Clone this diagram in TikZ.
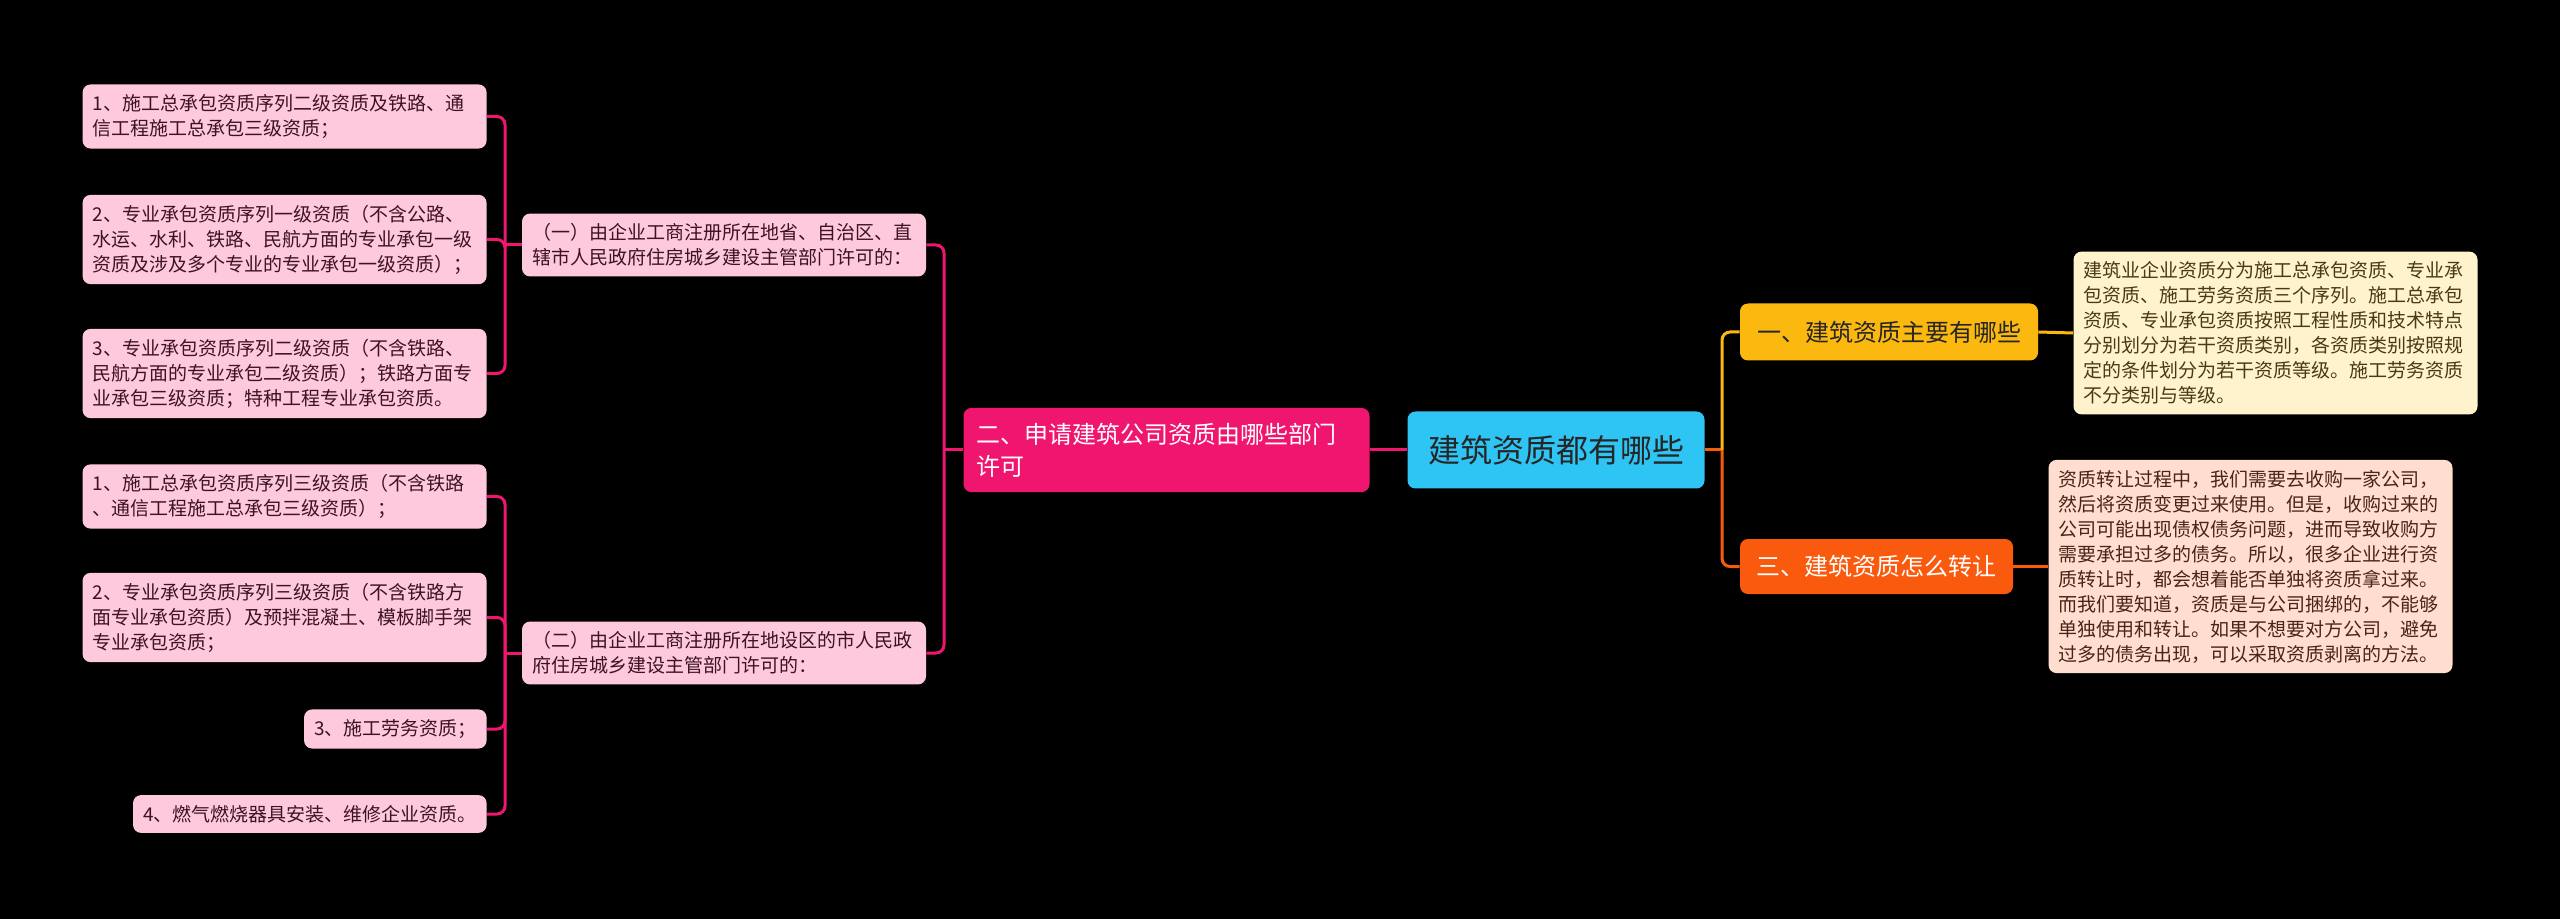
\documentclass[tikz,border=0pt]{standalone}
\usepackage{fontspec}
\setmainfont{Noto Sans CJK SC}
\usetikzlibrary{positioning}
\definecolor{rootblue}{HTML}{2EC4F3}
\definecolor{hotpink}{HTML}{F0166F}
\definecolor{lightpink}{HTML}{FFC9DD}
\definecolor{leafink}{HTML}{3D1226}
\definecolor{amber}{HTML}{FBB80F}
\definecolor{tangerine}{HTML}{F95A0E}
\definecolor{cream}{HTML}{FFF3CE}
\definecolor{creamink}{HTML}{4A3A12}
\definecolor{peach}{HTML}{FFDDCF}
\definecolor{peachink}{HTML}{4A2416}
\tikzset{
  box/.style={rounded corners=4pt, inner xsep=5pt, inner ysep=5pt, align=left,
    font=\fontsize{9.5}{12.5}\selectfont},
  leaf/.style={box, fill=lightpink, text=leafink, anchor=east},
  pinkline/.style={draw=hotpink, line width=1.5pt, rounded corners=4pt},
  yline/.style={draw=amber, line width=1.5pt, rounded corners=4pt},
  oline/.style={draw=tangerine, line width=1.5pt, rounded corners=4pt},
}
\begin{document}
\begin{tikzpicture}[x=0.5pt, y=-0.5pt]
  % Sfondo
  \fill[black] (0,0) rectangle (2560,919);
  \useasboundingbox (0,0) rectangle (2560,919);

  % Nodo centrale
  \node[box, fill=rootblue, text=black!85, align=center, minimum width=148.5pt,
    minimum height=38.5pt, font=\fontsize{16}{19}\selectfont] (root) at (1556,450) {建筑资质都有哪些};

  % Ramo destro
  \node[box, fill=amber, text=black!85, minimum width=149pt, minimum height=28.5pt,
    font=\fontsize{12}{16}\selectfont] (one) at (1889,332) {一、建筑资质主要有哪些};
  \node[box, fill=tangerine, text=white, minimum width=136.5pt, minimum height=27.5pt,
    font=\fontsize{12}{16}\selectfont] (three) at (1876.5,566.5) {三、建筑资质怎么转让};
  \node[box, fill=cream, text=creamink, text width=192pt] (onetext) at (2275.5,333)
    {建筑业企业资质分为施工总承包资质、专业承\\包资质、施工劳务资质三个序列。施工总承包\\资质、专业承包资质按照工程性质和技术特点\\分别划分为若干资质类别，各资质类别按照规\\定的条件划分为若干资质等级。施工劳务资质\\不分类别与等级。};
  \node[box, fill=peach, text=peachink, text width=192pt] (threetext) at (2250.5,566.5)
    {资质转让过程中，我们需要去收购一家公司，\\然后将资质变更过来使用。但是，收购过来的\\公司可能出现债权债务问题，进而导致收购方\\需要承担过多的债务。所以，很多企业进行资\\质转让时，都会想着能否单独将资质拿过来。\\而我们要知道，资质是与公司捆绑的，不能够\\单独使用和转让。如果不想要对方公司，避免\\过多的债务出现，可以采取资质剥离的方法。};

  % Ramo sinistro
  \node[box, fill=hotpink, text=white, text width=190pt, inner xsep=6.5pt, inner ysep=7.5pt,
    font=\fontsize{12}{16}\selectfont] (two) at (1166.5,450) {二、申请建筑公司资质由哪些部门\\许可};
  \node[box, fill=lightpink, text=leafink, text width=192pt] (provincial) at (724,245)
    {（一）由企业工商注册所在地省、自治区、直\\辖市人民政府住房城乡建设主管部门许可的：};
  \node[box, fill=lightpink, text=leafink, text width=192pt] (municipal) at (724,653)
    {（二）由企业工商注册所在地设区的市人民政\\府住房城乡建设主管部门许可的：};

  % Foglie (primo gruppo)
  \node[leaf, text width=192pt] (pa) at (487,116.5) {1、施工总承包资质序列二级资质及铁路、通\\信工程施工总承包三级资质；};
  \node[leaf, text width=192pt] (pb) at (487,239.5) {2、专业承包资质序列一级资质（不含公路、\\水运、水利、铁路、民航方面的专业承包一级\\资质及涉及多个专业的专业承包一级资质）；};
  \node[leaf, text width=192pt] (pc) at (487,373.5) {3、专业承包资质序列二级资质（不含铁路、\\民航方面的专业承包二级资质）；铁路方面专\\业承包三级资质；特种工程专业承包资质。};
  % Foglie (secondo gruppo)
  \node[leaf, text width=192pt] (ma) at (487,496.5) {1、施工总承包资质序列三级资质（不含铁路\\、通信工程施工总承包三级资质）；};
  \node[leaf, text width=192pt] (mb) at (487,617.5) {2、专业承包资质序列三级资质（不含铁路方\\面专业承包资质）及预拌混凝土、模板脚手架\\专业承包资质；};
  \node[leaf] (mc) at (487,729) {3、施工劳务资质；};
  \node[leaf] (md) at (487,814) {4、燃气燃烧器具安装、维修企业资质。};

  % Punti di diramazione
  \coordinate (rj) at (1722,450);
  \coordinate (tj) at (944,450);
  \coordinate (pj) at (505,245);
  \coordinate (mj) at (505,653);

  % Connettori
  \draw[oline] (root.east) -- (rj);
  \draw[yline] (rj) |- (one.west);
  \draw[oline] (rj) |- (three.west);
  \draw[yline] (one.east) -- (onetext.west);
  \draw[oline] (three.east) -- (threetext.west);

  \draw[pinkline] (root.west) -- (two.east);
  \draw[pinkline] (two.west) -- (tj);
  \draw[pinkline] (tj) |- (provincial.east);
  \draw[pinkline] (tj) |- (municipal.east);

  \draw[pinkline] (provincial.west) -- (pj);
  \foreach \n in {pa,pb,pc} \draw[pinkline] (pj) |- (\n.east);
  \draw[pinkline] (municipal.west) -- (mj);
  \foreach \n in {ma,mb,mc,md} \draw[pinkline] (mj) |- (\n.east);
\end{tikzpicture}
\end{document}
